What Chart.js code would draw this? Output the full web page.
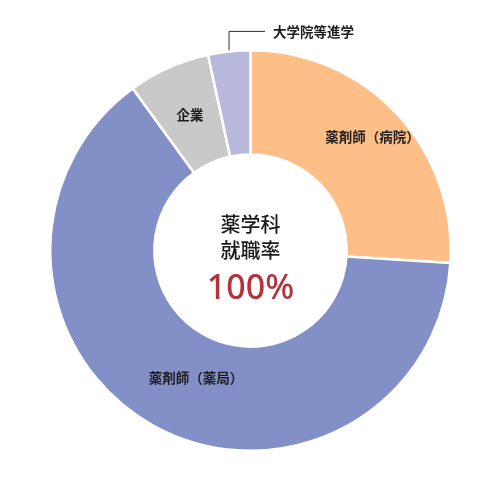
<!DOCTYPE html>
<html>
<head>
<meta charset="utf-8">
<script src="https://cdn.jsdelivr.net/npm/chart.js@4/dist/chart.umd.min.js"></script>
<style>
  html, body { margin: 0; padding: 0; background: #fff; }
  #wrap { width: 501px; height: 501px; }
</style>
</head>
<body>
<div id="wrap"><canvas id="chart" width="501" height="501"></canvas></div>
<script>
// 就職先の内訳 (%)
const labels = ['薬剤師（病院）', '薬剤師（薬局）', '企業', '大学院等進学'];
const shares = [26.0, 64.0, 6.6, 3.4];
const colors = ['#fdbe87', '#8390c8', '#c9c9c9', '#b8b8dd'];
const centerLines = ['薬学科', '就職率'];
const centerValue = '100%';

const FONT = '"Noto Sans CJK JP", "Noto Sans", sans-serif';

// ラベル位置の微調整 (tooltipPosition からのずれ)
const labelShift = [
  { dx: 14, dy: -12 },
  { dx: 17, dy: -2 },
  { dx: 0, dy: 0 },
  null // 引き出し線で描く
];

const sliceLabels = {
  id: 'sliceLabels',
  afterDatasetsDraw(chart) {
    const ctx = chart.ctx;
    const meta = chart.getDatasetMeta(0);
    ctx.save();
    ctx.font = 'bold 13.5px ' + FONT;
    ctx.fillStyle = '#1e1e1e';
    ctx.textBaseline = 'middle';
    meta.data.forEach((arc, i) => {
      const s = labelShift[i];
      if (s) {
        const p = arc.tooltipPosition();
        ctx.textAlign = 'center';
        ctx.fillText(labels[i], p.x + s.dx, p.y + s.dy);
      } else {
        // 外側に引き出し線
        const a = (arc.startAngle + arc.endAngle) / 2;
        const x0 = arc.x + Math.cos(a) * (arc.outerRadius + 1);
        const y0 = arc.y + Math.sin(a) * (arc.outerRadius + 1);
        const yTop = y0 - 19;
        ctx.strokeStyle = '#333';
        ctx.lineWidth = 1;
        ctx.beginPath();
        ctx.moveTo(x0, y0);
        ctx.lineTo(x0, yTop);
        ctx.lineTo(x0 + 36, yTop);
        ctx.stroke();
        ctx.textAlign = 'left';
        ctx.fillText(labels[i], x0 + 44, yTop);
      }
    });
    ctx.restore();
  }
};

const centerText = {
  id: 'centerText',
  afterDraw(chart) {
    const ctx = chart.ctx;
    const arc = chart.getDatasetMeta(0).data[0];
    const cx = arc.x, cy = arc.y;
    ctx.save();
    ctx.textAlign = 'center';
    ctx.textBaseline = 'middle';
    ctx.fillStyle = '#1a1a1a';
    ctx.font = '500 20px ' + FONT;
    ctx.fillText(centerLines[0], cx, cy - 26);
    ctx.fillText(centerLines[1], cx, cy);
    ctx.fillStyle = '#b5313c';
    ctx.font = '500 34px "Noto Sans", sans-serif';
    ctx.fillText(centerValue, cx, cy + 39);
    ctx.restore();
  }
};

new Chart(document.getElementById('chart'), {
  type: 'doughnut',
  data: {
    labels: labels,
    datasets: [{
      data: shares,
      backgroundColor: colors,
      borderColor: '#ffffff',
      borderWidth: 2.5,
      hoverOffset: 0
    }]
  },
  options: {
    responsive: false,
    animation: false,
    cutout: '48%',
    layout: { padding: 49 },
    plugins: {
      legend: { display: false },
      tooltip: { enabled: false }
    }
  },
  plugins: [sliceLabels, centerText]
});
</script>
</body>
</html>
